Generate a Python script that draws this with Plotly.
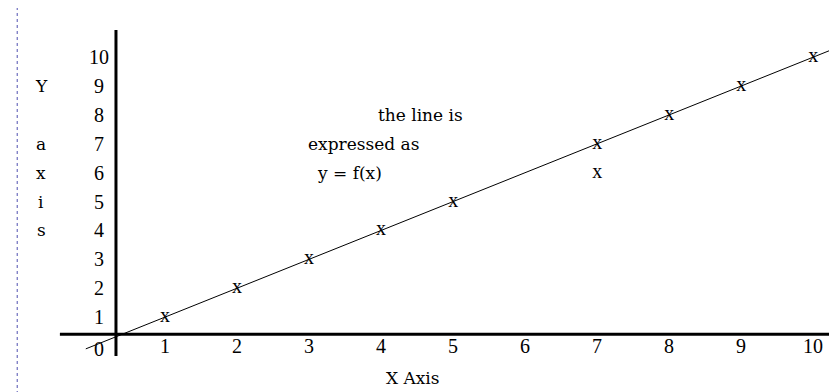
import plotly.graph_objects as go

# points marked with an "x" on the line y = f(x)
mark_x = [1, 2, 3, 4, 5, 7, 8, 9, 10]
mark_y = [1, 2, 3, 4, 5, 7, 8, 9, 10]
# the loose "x" under the point at 7
stray_x = [7]
stray_y = [6]
# the drawn line
line_x = [-0.1, 10.6]
line_y = [-0.1, 10.6]

x_ticks = [1, 2, 3, 4, 5, 6, 7, 8, 9, 10]
y_ticks = [1, 2, 3, 4, 5, 6, 7, 8, 9, 10]
x_tick_text = [str(v) for v in x_ticks]
y_tick_text = [str(v) for v in y_ticks]

# letters of the vertical y-axis title and the row each sits on
y_title_letters = ["Y", "a", "x", "i", "s"]
y_title_rows = [9, 7, 6, 5, 4]

note_lines = ["the line is", "expressed as", "y = f(x)"]
note_x = [4.54, 3.75, 3.56]
note_y = [8, 7, 6]

TEXT_FONT = {"family": "DejaVu Serif, Liberation Serif, serif", "size": 17, "color": "black"}
TICK_FONT = {"family": "Liberation Serif, serif", "size": 20, "color": "black"}

fig = go.Figure()
fig.add_trace(
    go.Scatter(
        x=line_x,
        y=line_y,
        mode="lines",
        line={"color": "black", "width": 1},
        hoverinfo="skip",
    )
)
fig.add_trace(
    go.Scatter(
        x=mark_x + stray_x,
        y=mark_y + stray_y,
        mode="text",
        text=["x"] * (len(mark_x) + len(stray_x)),
        textposition="middle center",
        textfont={"family": "Liberation Serif, serif", "size": 20, "color": "black"},
        hoverinfo="skip",
    )
)

annotations = []
# x tick labels sit on the y = 0 row, y tick labels on the x = 0 column
for v, t in zip(x_ticks, x_tick_text):
    annotations.append(dict(x=v, y=0, text=t, showarrow=False, font=TICK_FONT))
for v, t in zip(y_ticks, y_tick_text):
    annotations.append(dict(x=0, y=v, text=t, showarrow=False, xshift=6, font=TICK_FONT))
annotations.append(dict(x=0, y=0, text="0", showarrow=False, xshift=6, yshift=-3,
                        font=TICK_FONT))
for letter, row in zip(y_title_letters, y_title_rows):
    annotations.append(dict(x=-0.72, y=row, text=letter, showarrow=False, font=TEXT_FONT))
for t, nx, ny in zip(note_lines, note_x, note_y):
    annotations.append(dict(x=nx, y=ny, text=t, showarrow=False, font=TEXT_FONT))
annotations.append(dict(x=4.44, y=-1.1, text="X Axis", showarrow=False, font=TEXT_FONT))
for a in annotations:
    a["xref"] = "x"
    a["yref"] = "y"

shapes = [
    # page edge: dotted blue rule on the left
    dict(type="line", xref="paper", yref="paper", x0=0.011, x1=0.011, y0=0, y1=1,
         line={"color": "#5050b0", "width": 1, "dash": "dot"}),
    # vertical axis
    dict(type="line", xref="paper", yref="paper", x0=0.129, x1=0.129, y0=0.112, y1=0.944,
         line={"color": "black", "width": 3}),
    # horizontal axis
    dict(type="line", xref="paper", yref="paper", x0=0.062, x1=1.0, y0=0.168, y1=0.168,
         line={"color": "black", "width": 3}),
]

fig.update_layout(
    width=837,
    height=392,
    margin={"l": 0, "r": 0, "t": 0, "b": 0},
    paper_bgcolor="white",
    plot_bgcolor="white",
    showlegend=False,
    annotations=annotations,
    shapes=shapes,
    xaxis={"range": [-1.18, 10.44], "showgrid": False, "zeroline": False,
           "showticklabels": False, "fixedrange": True},
    yaxis={"range": [-1.87, 11.70], "showgrid": False, "zeroline": False,
           "showticklabels": False, "fixedrange": True},
)
fig.write_html("out.html")
